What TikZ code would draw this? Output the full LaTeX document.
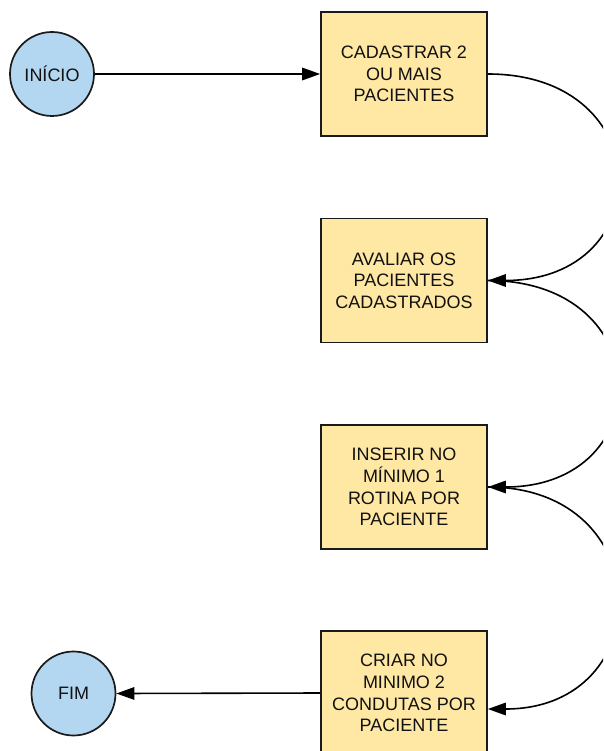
\documentclass[tikz,border=0pt]{standalone}
\usepackage{fontspec}
\setmainfont{Liberation Sans}
\usetikzlibrary{arrows.meta}
\definecolor{stepfill}{HTML}{FFE8A4}
\definecolor{termfill}{HTML}{B4D7F1}
\definecolor{edgeline}{HTML}{1A1A1A}
\definecolor{labeltext}{HTML}{111111}
\begin{document}
\begin{tikzpicture}[x=1pt,y=-1pt,
  stepbox/.style={draw=edgeline,line width=1.7pt,fill=stepfill,
    minimum width=166pt,minimum height=124pt,inner sep=0pt,
    align=center,text=labeltext,font=\fontsize{18}{21.6}\selectfont},
  terminal/.style={circle,draw=edgeline,line width=1.7pt,fill=termfill,
    minimum size=84pt,inner sep=0pt,text=labeltext,
    font=\fontsize{18}{21.6}\selectfont},
  flow/.style={line width=1.6pt,draw=black,
    -{Triangle[length=18pt,width=12.5pt]}}]
\useasboundingbox (0,0) rectangle (603,751);
\clip (0,0) rectangle (603,751);
\fill[white] (0,0) rectangle (603,751);

% process steps
\node[stepbox] (b1) at (404,74) {CADASTRAR 2\\OU MAIS\\PACIENTES};
\node[stepbox] (b2) at (404,280.5) {AVALIAR OS\\PACIENTES\\CADASTRADOS};
\node[stepbox] (b3) at (404,487) {INSERIR NO\\MÍNIMO 1\\ROTINA POR\\PACIENTE};
\node[stepbox] (b4) at (404,693) {CRIAR NO\\MINIMO 2\\CONDUTAS POR\\PACIENTE};

% start and end
\node[terminal] (start) at (52,74) {INÍCIO};
\node[terminal] (stop) at (73.5,693.5) {FIM};

% connectors
\draw[flow] (start.east) -- (b1.west);
\draw[flow] (b1.east) .. controls +(172,0) and +(172,0) .. (b2.east);
\draw[flow] (b2.east) .. controls +(172,0) and +(172,0) .. (b3.east);
\coordinate (b4in) at ([yshift=-16pt]b4.east);
\draw[flow] (b3.east) .. controls +(172,0) and +(172,0) .. (b4in);
\draw[flow] (b4.west) -- (stop.east);
\end{tikzpicture}
\end{document}
